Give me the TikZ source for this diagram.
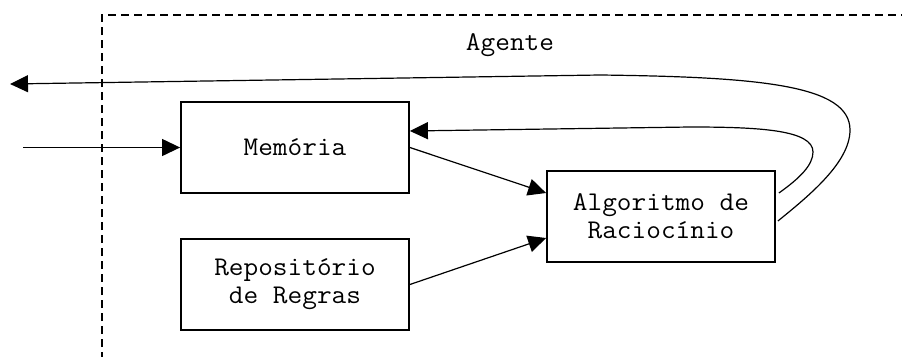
\documentclass[tikz,border=0pt]{standalone}
\usepackage{fontspec}
\setmonofont[FakeStretch=1.055]{Latin Modern Mono}
\usetikzlibrary{arrows.meta}
\begin{document}
\begin{tikzpicture}[x=1pt,y=-1pt,
  every node/.style={font=\ttfamily\fontsize{27}{28}\selectfont},
  block/.style={draw,line width=1.8pt,minimum width=228pt,minimum height=91pt,
    inner sep=0pt,align=center},
  link/.style={line width=1.2pt,-{Triangle[length=18pt,width=17pt]}},
  frame/.style={line width=1.6pt,dash pattern=on 8pt off 5pt}]
  \useasboundingbox (0,0) rectangle (902,356);

  % agent boundary (open to the right and below)
  \draw[frame] (102,360) -- (102,15) -- (905,15);
  \node (agente) at (510,45) {Agente};

  % components
  \node[block] (mem) at (295,147.5) {Memória};
  \node[block] (rep) at (295,284.5) {Repositório\\de Regras};
  \node[block] (alg) at (661,216.5) {Algoritmo de\\Raciocínio};

  % free ends of the outer arrows
  \coordinate (in) at (23,147.5);
  \coordinate (out) at (10,84);

  % input into memory
  \draw[link] (in) -- (mem.west);

  % memory and rules feed the reasoning
  \draw[link] (mem.east) -- ([yshift=23.5pt]alg.west);
  \draw[link] (rep.east) -- ([yshift=-21.5pt]alg.west);

  % feedback from reasoning to memory
  \draw[link] ([xshift=3pt,yshift=23.5pt]alg.east)
    .. controls (800,178) and (813,165) .. (813,152)
    .. controls (813,130) and (760,127) .. (690,127)
    -- ([yshift=16.5pt]mem.east);

  % action out of the agent
  \draw[link] ([xshift=2pt,yshift=-4.5pt]alg.east)
    .. controls (810,195) and (850,162) .. (850,130)
    .. controls (850,85) and (760,77) .. (600,75)
    -- (out);
\end{tikzpicture}
\end{document}
